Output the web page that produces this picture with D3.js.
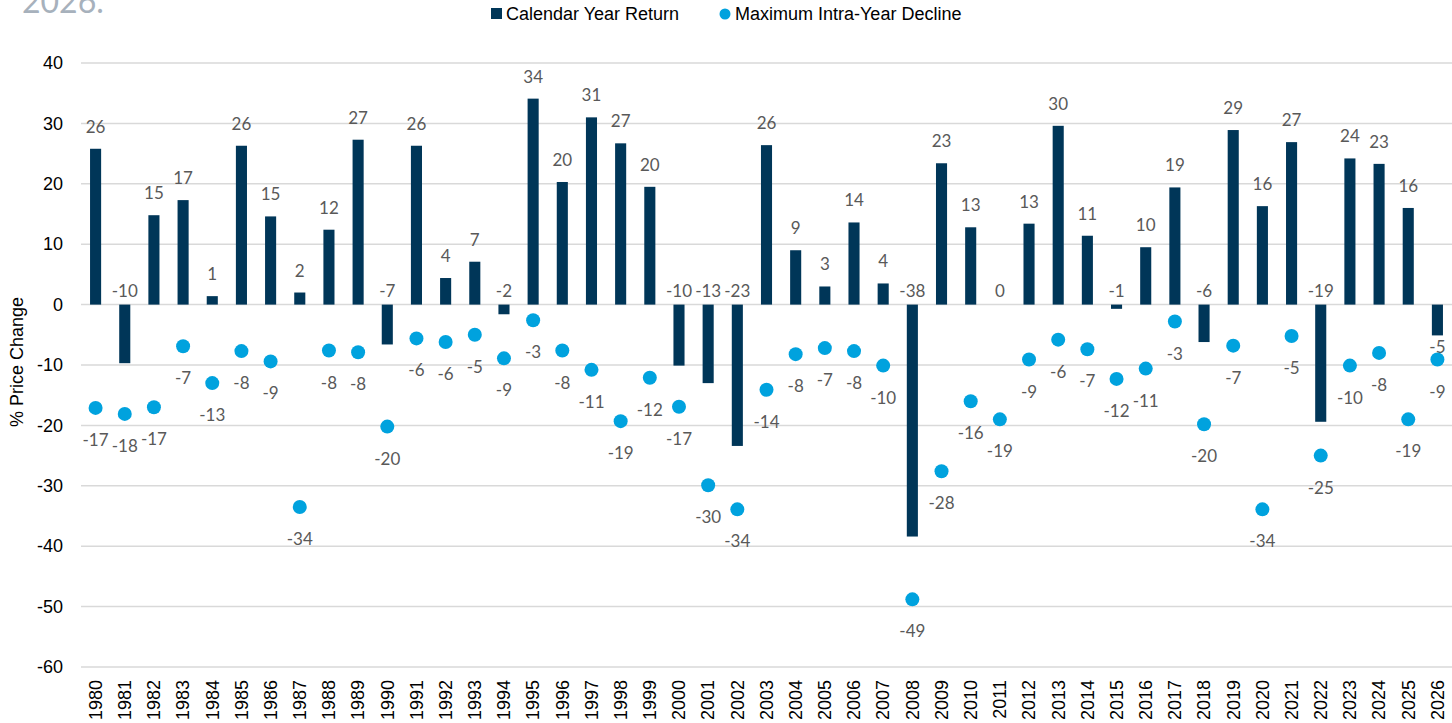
<!DOCTYPE html>
<html>
<head>
<meta charset="utf-8">
<script src="https://cdn.jsdelivr.net/npm/d3@7/dist/d3.min.js"></script>
<style>
  html, body { margin: 0; padding: 0; background: #fff; }
  svg { display: block; }
</style>
</head>
<body>
<svg id="chart" width="1452" height="723"></svg>
<script>
// Years shown on the x axis
const years = d3.range(1980, 2027).map(String);

// Calendar year price return (%)
const annualReturn = [
  25.8, -9.7, 14.8, 17.3, 1.4, 26.3, 14.6, 2.0, 12.4, 27.3,
  -6.6, 26.3, 4.4, 7.1, -1.6, 34.1, 20.3, 31.0, 26.7, 19.5,
  -10.1, -13.0, -23.4, 26.4, 9.0, 3.0, 13.6, 3.5, -38.4, 23.4,
  12.8, 0.0, 13.4, 29.6, 11.4, -0.7, 9.5, 19.4, -6.2, 28.9,
  16.3, 26.9, -19.4, 24.2, 23.3, 16.0, -5.1
];

// Maximum intra-year decline (%)
const intraYearDecline = [
  -17.1, -18.1, -17.0, -6.9, -13.0, -7.7, -9.4, -33.5, -7.6, -7.9,
  -20.2, -5.6, -6.2, -5.0, -8.9, -2.6, -7.6, -10.8, -19.3, -12.1,
  -16.9, -29.9, -33.9, -14.1, -8.2, -7.2, -7.7, -10.1, -48.8, -27.6,
  -16.0, -19.0, -9.1, -5.8, -7.4, -12.3, -10.6, -2.8, -19.8, -6.8,
  -33.9, -5.2, -25.0, -10.1, -8.0, -19.0, -9.1
];

// Y axis tick values
const yTicks = [40, 30, 20, 10, 0, -10, -20, -30, -40, -50, -60];

// Series names for the legend
const seriesNames = ["Calendar Year Return", "Maximum Intra-Year Decline"];

// Years whose negative return label sits under the bar end
const labelBelowBar = ["2026"];

const colors = { bar: "#003658", dot: "#00a2de", grid: "#d9d9d9", label: "#595959" };
const axisFont = "'Liberation Sans', Arial, sans-serif";
const labelFont = "Lato, 'Open Sans', sans-serif";

const svg = d3.select("#chart");
const margin = { left: 81, right: 0 };
const W = 1452;

const x = d3.scaleBand().domain(years).range([margin.left, W - margin.right]).paddingInner(0.62).paddingOuter(0.31);
const y = d3.scaleLinear().domain([-60, 40]).range([667, 63]);

const fmt = v => { const r = Math.sign(v) * Math.round(Math.abs(v)); return String(r === 0 ? 0 : r); };

// Subtitle running off the top edge
svg.append("text")
  .attr("x", 22).attr("y", 13)
  .attr("font-family", "Lato, sans-serif")
  .attr("font-size", 32)
  .attr("fill", "#a7b1bc")
  .text("2026.");

// Grid lines
svg.append("g").selectAll("line").data(yTicks).join("line")
  .attr("x1", margin.left).attr("x2", W)
  .attr("y1", d => y(d)).attr("y2", d => y(d))
  .attr("stroke", colors.grid).attr("stroke-width", 1.5);

// Y axis labels
const yAxis = d3.axisLeft(y).tickValues(yTicks).tickSize(0).tickPadding(0);
svg.append("g")
  .attr("transform", `translate(63,0)`)
  .call(yAxis)
  .call(g => g.select(".domain").remove())
  .call(g => g.selectAll("text")
    .attr("font-family", axisFont).attr("font-size", 18).attr("fill", "#000")
    .text(d => String(d)));

// Y axis title
svg.append("text")
  .attr("transform", `translate(23,${y(-9.5)}) rotate(-90)`)
  .attr("text-anchor", "middle")
  .attr("font-family", axisFont).attr("font-size", 18).attr("fill", "#000")
  .text("% Price Change");

// X axis labels (rotated)
const xAxis = d3.axisBottom(x).tickSize(0).tickPadding(0);
svg.append("g")
  .attr("transform", `translate(0,${y(-60)})`)
  .call(xAxis)
  .call(g => g.select(".domain").remove())
  .call(g => g.selectAll("text")
    .attr("font-family", axisFont).attr("font-size", 18).attr("fill", "#000")
    .attr("text-anchor", "end")
    .attr("dy", "0.35em")
    .attr("transform", "translate(0,13) rotate(-90)")
    .attr("x", 0).attr("y", 0));

const rows = years.map((yr, i) => ({ year: yr, ret: annualReturn[i], dec: intraYearDecline[i] }));

// Bars: calendar year return
svg.append("g").selectAll("rect").data(rows).join("rect")
  .attr("x", d => x(d.year))
  .attr("width", x.bandwidth())
  .attr("y", d => y(Math.max(0, d.ret)))
  .attr("height", d => Math.abs(y(d.ret) - y(0)))
  .attr("fill", colors.bar);

// Bar labels: above positive bars, just above the zero line for declines
svg.append("g").selectAll("text").data(rows).join("text")
  .attr("x", d => x(d.year) + x.bandwidth() / 2)
  .attr("y", d => {
    if (d.ret > 0) return y(d.ret) - 16;
    if (labelBelowBar.includes(d.year)) return y(d.ret) + 18;
    return y(0) - 8;
  })
  .attr("text-anchor", "middle")
  .attr("font-family", labelFont).attr("font-size", 17).attr("fill", colors.label)
  .text(d => fmt(d.ret));

// Dots: maximum intra-year decline
svg.append("g").selectAll("circle").data(rows).join("circle")
  .attr("cx", d => x(d.year) + x.bandwidth() / 2)
  .attr("cy", d => y(d.dec))
  .attr("r", 7)
  .attr("fill", colors.dot);

// Dot labels
svg.append("g").selectAll("text").data(rows).join("text")
  .attr("x", d => x(d.year) + x.bandwidth() / 2)
  .attr("y", d => y(d.dec) + 38)
  .attr("text-anchor", "middle")
  .attr("font-family", labelFont).attr("font-size", 17).attr("fill", colors.label)
  .text(d => fmt(d.dec));

// Legend
const legend = svg.append("g").attr("font-family", axisFont).attr("font-size", 18).attr("fill", "#000");
legend.append("rect").attr("x", 491).attr("y", 8).attr("width", 11).attr("height", 11).attr("fill", colors.bar);
legend.append("text").attr("x", 506).attr("y", 20).text(seriesNames[0]);
legend.append("circle").attr("cx", 725).attr("cy", 14).attr("r", 5.5).attr("fill", colors.dot);
legend.append("text").attr("x", 735).attr("y", 20).text(seriesNames[1]);
</script>
</body>
</html>
